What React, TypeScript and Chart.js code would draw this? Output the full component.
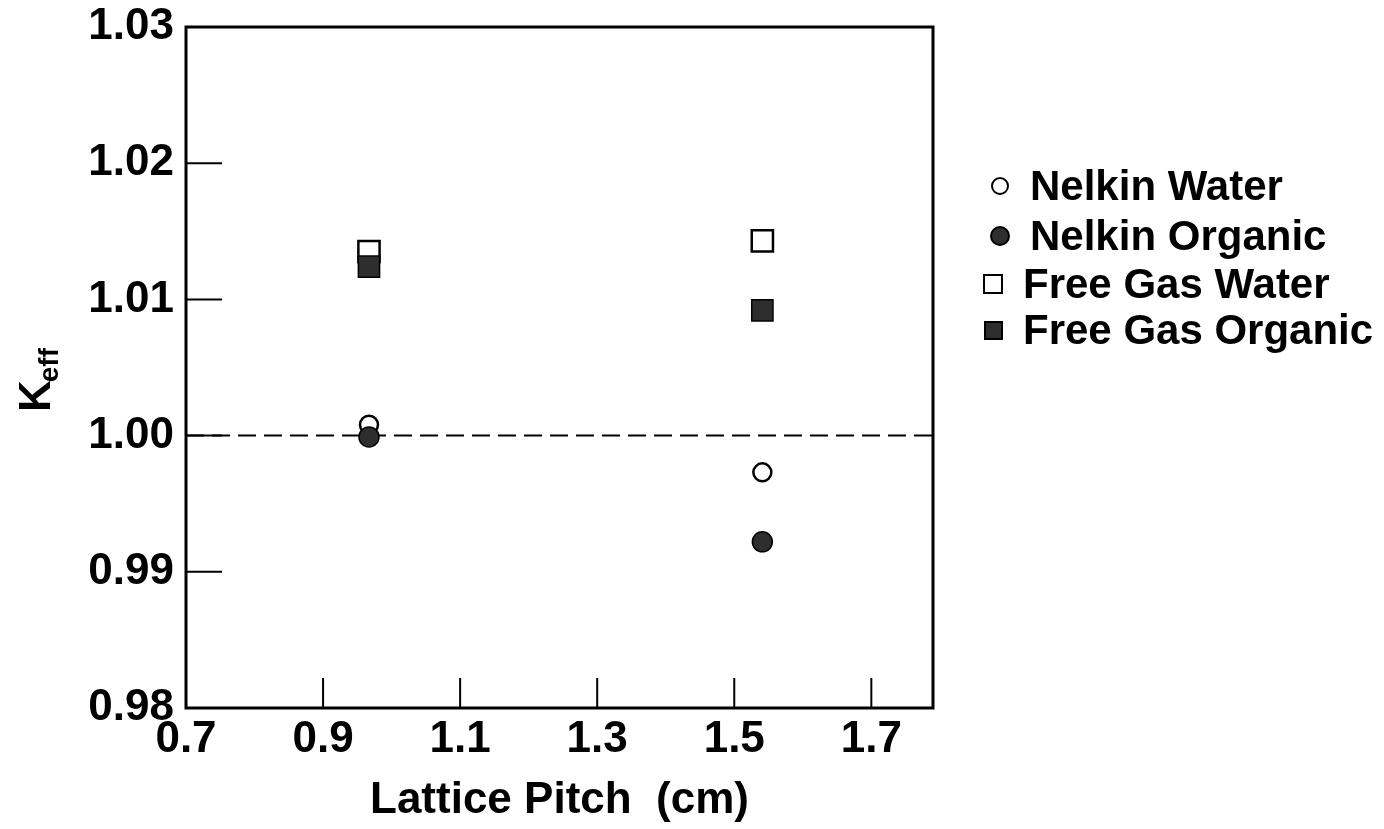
import React, { useEffect, useRef } from "react";
import { Chart, registerables } from "chart.js";

Chart.register(...registerables);

// ---- data ----
const pitchValues = [0.967, 1.541];
const nelkinWater = [1.0008, 0.9973];
const nelkinOrganic = [0.9999, 0.9922];
const freeGasWater = [1.0135, 1.0143];
const freeGasOrganic = [1.0124, 1.0092];
const referenceK = 1.0;
const xTickValues = [0.7, 0.9, 1.1, 1.3, 1.5, 1.7];
const yTickValues = [0.98, 0.99, 1.0, 1.01, 1.02, 1.03];
const xRange = [0.7, 1.79];
const yRange = [0.98, 1.03];
const seriesLabels = ["Nelkin Water", "Nelkin Organic", "Free Gas Water", "Free Gas Organic"];
const xAxisTitle = "Lattice Pitch  (cm)";
const yAxisTitleMain = "K";
const yAxisTitleSub = "eff";

const FONT = "'Liberation Sans', Arial, Helvetica, sans-serif";
const DARK = "#2e2e2e";

const toPoints = (ys: number[]) => pitchValues.map((x, i) => ({ x, y: ys[i] }));

const decorPlugin = {
  id: "decor",
  afterDraw(chart: any) {
    const { ctx, chartArea } = chart;
    const { left, right, top, bottom } = chartArea;
    const xs = chart.scales.x;
    const ys = chart.scales.y;
    ctx.save();
    ctx.strokeStyle = "#000";
    ctx.lineWidth = 3;
    ctx.strokeRect(left, top, right - left, bottom - top);
    ctx.lineWidth = 2;
    yTickValues.forEach((v) => {
      const py = ys.getPixelForValue(v);
      if (py > top + 3 && py < bottom - 3) {
        ctx.beginPath();
        ctx.moveTo(left, py);
        ctx.lineTo(left + 36, py);
        ctx.stroke();
      }
    });
    xTickValues.forEach((v) => {
      const px = xs.getPixelForValue(v);
      if (px > left + 3 && px < right - 3) {
        ctx.beginPath();
        ctx.moveTo(px, bottom);
        ctx.lineTo(px, bottom - 30);
        ctx.stroke();
      }
    });

    ctx.fillStyle = "#000";
    // x title
    ctx.font = `bold 44px ${FONT}`;
    ctx.textAlign = "center";
    ctx.textBaseline = "middle";
    ctx.fillText(xAxisTitle, (left + right) / 2, 801);

    // y title with subscript
    ctx.save();
    ctx.translate(50, 412);
    ctx.rotate(-Math.PI / 2);
    ctx.textAlign = "left";
    ctx.textBaseline = "alphabetic";
    ctx.font = `bold 44px ${FONT}`;
    ctx.fillText(yAxisTitleMain, 0, 0);
    const kw = ctx.measureText(yAxisTitleMain).width;
    ctx.font = `bold 28px ${FONT}`;
    ctx.fillText(yAxisTitleSub, kw - 2, 8);
    ctx.restore();

    // legend
    const rows = [186, 236, 284, 330];
    ctx.font = `bold 42px ${FONT}`;
    ctx.textAlign = "left";
    ctx.textBaseline = "middle";
    seriesLabels.forEach((label, i) => {
      const cy = rows[i];
      ctx.lineWidth = 2;
      ctx.strokeStyle = "#000";
      if (i === 0) {
        ctx.beginPath();
        ctx.arc(1000, cy, 8, 0, Math.PI * 2);
        ctx.fillStyle = "#fff";
        ctx.fill();
        ctx.stroke();
      } else if (i === 1) {
        ctx.beginPath();
        ctx.arc(1000, cy, 9, 0, Math.PI * 2);
        ctx.fillStyle = DARK;
        ctx.fill();
        ctx.stroke();
      } else if (i === 2) {
        ctx.fillStyle = "#fff";
        ctx.fillRect(984, cy - 9, 18, 18);
        ctx.strokeRect(984, cy - 9, 18, 18);
      } else {
        ctx.fillStyle = DARK;
        ctx.fillRect(985, cy - 8, 17, 17);
        ctx.strokeRect(985, cy - 8, 17, 17);
      }
      ctx.fillStyle = "#000";
      ctx.fillText(label, i < 2 ? 1030 : 1023, cy + 2);
    });
    ctx.restore();
  },
};

export default function App() {
  const canvasRef = useRef<HTMLCanvasElement | null>(null);

  useEffect(() => {
    if (!canvasRef.current) return;
    const chart = new Chart(canvasRef.current, {
      type: "scatter",
      data: {
        datasets: [
          {
            label: "reference",
            type: "line",
            data: [
              { x: xRange[0], y: referenceK },
              { x: xRange[1], y: referenceK },
            ],
            borderColor: "#000",
            borderWidth: 2,
            borderDash: [18, 8],
            pointRadius: 0,
            showLine: true,
            fill: false,
            order: 5,
          } as any,
          {
            label: seriesLabels[0],
            data: toPoints(nelkinWater),
            pointStyle: "circle",
            pointRadius: 9,
            pointBorderWidth: 2.5,
            pointBackgroundColor: "#fff",
            pointBorderColor: "#000",
            order: 3,
          },
          {
            label: seriesLabels[1],
            data: toPoints(nelkinOrganic),
            pointStyle: "circle",
            pointRadius: 10,
            pointBorderWidth: 1.5,
            pointBackgroundColor: DARK,
            pointBorderColor: "#000",
            order: 1,
          },
          {
            label: seriesLabels[2],
            data: toPoints(freeGasWater),
            pointStyle: "rect",
            pointRadius: 15,
            pointBorderWidth: 2.5,
            pointBackgroundColor: "#fff",
            pointBorderColor: "#000",
            order: 4,
          },
          {
            label: seriesLabels[3],
            data: toPoints(freeGasOrganic),
            pointStyle: "rect",
            pointRadius: 15,
            pointBorderWidth: 1.5,
            pointBackgroundColor: DARK,
            pointBorderColor: "#000",
            order: 2,
          },
        ],
      },
      options: {
        animation: false,
        responsive: false,
        maintainAspectRatio: false,
        devicePixelRatio: 1,
        layout: { padding: { top: 27, right: 451, left: 0, bottom: 0 } },
        plugins: {
          legend: { display: false },
          tooltip: { enabled: false },
        },
        scales: {
          x: {
            type: "linear",
            min: xRange[0],
            max: xRange[1],
            afterBuildTicks: (scale: any) => {
              scale.ticks = xTickValues.map((v) => ({ value: v }));
            },
            afterFit: (scale: any) => {
              scale.height = 121;
              scale.paddingLeft = 0;
              scale.paddingRight = 0;
            },
            grid: { display: false, drawTicks: false },
            border: { display: false },
            ticks: {
              padding: 5,
              color: "#000",
              font: { family: FONT, size: 44, weight: "bold" },
              maxRotation: 0,
              autoSkip: false,
              callback: (v: any) => Number(v).toFixed(1),
            },
          },
          y: {
            type: "linear",
            min: yRange[0],
            max: yRange[1],
            afterBuildTicks: (scale: any) => {
              scale.ticks = yTickValues.map((v) => ({ value: v }));
            },
            afterFit: (scale: any) => {
              scale.width = 186;
              scale.paddingTop = 0;
              scale.paddingBottom = 0;
            },
            grid: { display: false, drawTicks: false },
            border: { display: false },
            ticks: {
              padding: 12,
              color: "#000",
              font: { family: FONT, size: 44, weight: "bold" },
              autoSkip: false,
              callback: (v: any) => Number(v).toFixed(2),
            },
          },
        },
      },
      plugins: [decorPlugin],
    });
    return () => chart.destroy();
  }, []);

  return (
    <div style={{ position: "absolute", left: 0, top: 0, width: 1384, height: 829, background: "#fff" }}>
      <canvas ref={canvasRef} width={1384} height={829} />
    </div>
  );
}
